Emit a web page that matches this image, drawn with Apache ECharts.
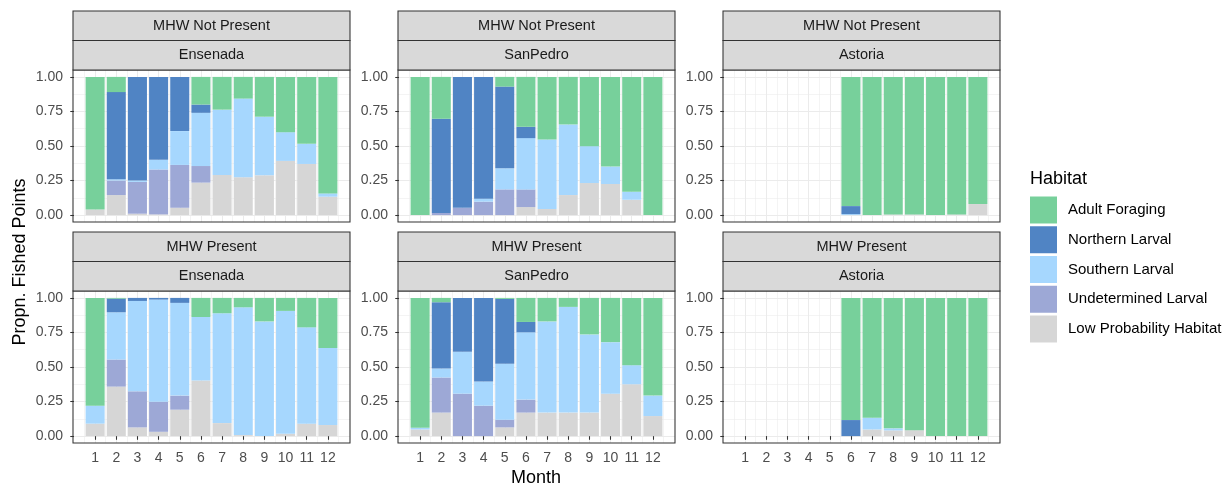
<!DOCTYPE html>
<html>
<head>
<meta charset="utf-8">
<title>Propn. Fished Points by Month</title>
<style>
  html, body { margin: 0; background: #fff; }
</style>
</head>
<body>
<div id="main" style="width:1223px;height:486px;"></div>
<script src="https://cdn.jsdelivr.net/npm/echarts@6/dist/echarts.min.js"></script>
<script>
var months = [1, 2, 3, 4, 5, 6, 7, 8, 9, 10, 11, 12];
var monthMinor = [0.5, 1.5, 2.5, 3.5, 4.5, 5.5, 6.5, 7.5, 8.5, 9.5, 10.5, 11.5, 12.5];
var yTicks = [0, 0.25, 0.5, 0.75, 1];
var yMinor = [0.125, 0.375, 0.625, 0.875];
// legend order (top to bottom)
var habitats = ['Adult Foraging', 'Northern Larval', 'Southern Larval', 'Undetermined Larval', 'Low Probability Habitat'];
// stack order (bottom to top)
var stackOrder = ['Low Probability Habitat', 'Undetermined Larval', 'Southern Larval', 'Northern Larval', 'Adult Foraging'];
var colors = {
    'Adult Foraging': '#77D09B',
    'Northern Larval': '#5084C4',
    'Southern Larval': '#A6D7FE',
    'Undetermined Larval': '#9DA8D6',
    'Low Probability Habitat': '#D6D6D6'
};

// Ensenada, MHW Not Present
var ensNP_low   = [0.04, 0.145, 0.01, 0.005, 0.053, 0.235, 0.29, 0.274, 0.288, 0.392, 0.37, 0.133];
var ensNP_und   = [0, 0.105, 0.23, 0.325, 0.31, 0.12, 0, 0, 0, 0, 0, 0];
var ensNP_sth   = [0, 0.01, 0.01, 0.07, 0.245, 0.385, 0.473, 0.569, 0.424, 0.208, 0.146, 0.024];
var ensNP_nth   = [0, 0.63, 0.75, 0.6, 0.392, 0.06, 0, 0, 0, 0, 0, 0];
var ensNP_adult = [0.96, 0.11, 0, 0, 0, 0.2, 0.237, 0.157, 0.288, 0.4, 0.484, 0.843];

// SanPedro, MHW Not Present
var spNP_low   = [0, 0, 0, 0, 0, 0.058, 0.044, 0.145, 0.232, 0.225, 0.111, 0];
var spNP_und   = [0, 0.015, 0.053, 0.097, 0.186, 0.128, 0, 0, 0, 0, 0, 0];
var spNP_sth   = [0, 0, 0, 0.022, 0.153, 0.371, 0.503, 0.511, 0.267, 0.126, 0.058, 0];
var spNP_nth   = [0, 0.682, 0.947, 0.881, 0.591, 0.082, 0, 0, 0, 0, 0, 0];
var spNP_adult = [1, 0.303, 0, 0, 0.07, 0.361, 0.453, 0.344, 0.501, 0.649, 0.831, 1];

// Astoria, MHW Not Present
var astNP_low   = [null, null, null, null, null, 0, 0, 0.005, 0.005, 0, 0.005, 0.08];
var astNP_und   = [null, null, null, null, null, 0, 0, 0, 0, 0, 0, 0];
var astNP_sth   = [null, null, null, null, null, 0.007, 0, 0, 0, 0, 0, 0];
var astNP_nth   = [null, null, null, null, null, 0.058, 0, 0, 0, 0, 0, 0];
var astNP_adult = [null, null, null, null, null, 0.935, 1, 0.995, 0.995, 1, 0.995, 0.92];

// Ensenada, MHW Present
var ensP_low   = [0.09, 0.358, 0.063, 0.031, 0.191, 0.402, 0.094, 0.007, 0, 0.017, 0.09, 0.08];
var ensP_und   = [0, 0.196, 0.261, 0.218, 0.102, 0, 0, 0, 0, 0, 0, 0];
var ensP_sth   = [0.13, 0.342, 0.654, 0.739, 0.671, 0.46, 0.795, 0.925, 0.83, 0.889, 0.697, 0.557];
var ensP_nth   = [0, 0.099, 0.022, 0.012, 0.036, 0, 0, 0, 0, 0, 0, 0];
var ensP_adult = [0.78, 0.005, 0, 0, 0, 0.138, 0.111, 0.068, 0.17, 0.094, 0.213, 0.363];

// SanPedro, MHW Present
var spP_low   = [0.048, 0.17, 0, 0, 0.063, 0.17, 0.17, 0.17, 0.17, 0.307, 0.375, 0.145];
var spP_und   = [0, 0.254, 0.307, 0.22, 0.056, 0.094, 0, 0, 0, 0, 0, 0];
var spP_sth   = [0.012, 0.065, 0.303, 0.175, 0.404, 0.487, 0.66, 0.765, 0.566, 0.373, 0.138, 0.148];
var spP_nth   = [0, 0.48, 0.39, 0.605, 0.47, 0.075, 0, 0, 0, 0, 0, 0];
var spP_adult = [0.94, 0.031, 0, 0, 0.007, 0.174, 0.17, 0.065, 0.264, 0.32, 0.487, 0.707];

// Astoria, MHW Present
var astP_low   = [null, null, null, null, null, 0, 0.048, 0.041, 0.043, 0, 0, 0];
var astP_und   = [null, null, null, null, null, 0, 0, 0, 0, 0, 0, 0];
var astP_sth   = [null, null, null, null, null, 0, 0.085, 0.015, 0, 0, 0, 0];
var astP_nth   = [null, null, null, null, null, 0.116, 0, 0, 0, 0, 0, 0];
var astP_adult = [null, null, null, null, null, 0.884, 0.867, 0.944, 0.957, 1, 1, 1];

var panels = [
    { row: 0, col: 0, mhw: 'MHW Not Present', site: 'Ensenada', values: [ensNP_low, ensNP_und, ensNP_sth, ensNP_nth, ensNP_adult] },
    { row: 0, col: 1, mhw: 'MHW Not Present', site: 'SanPedro', values: [spNP_low, spNP_und, spNP_sth, spNP_nth, spNP_adult] },
    { row: 0, col: 2, mhw: 'MHW Not Present', site: 'Astoria', values: [astNP_low, astNP_und, astNP_sth, astNP_nth, astNP_adult] },
    { row: 1, col: 0, mhw: 'MHW Present', site: 'Ensenada', values: [ensP_low, ensP_und, ensP_sth, ensP_nth, ensP_adult] },
    { row: 1, col: 1, mhw: 'MHW Present', site: 'SanPedro', values: [spP_low, spP_und, spP_sth, spP_nth, spP_adult] },
    { row: 1, col: 2, mhw: 'MHW Present', site: 'Astoria', values: [astP_low, astP_und, astP_sth, astP_nth, astP_adult] }
];

// layout
var FONT = '"Liberation Sans", Arial, sans-serif';
var colLeft = [73, 398, 723];
var rowTop = [70, 291];
var panelW = 277, panelH = 152, stripH = 29.5;
var gridColor = '#EBEBEB';
// ggplot-like expansion: bars span 0.55..12.45, 5% padding each side
var xMin = -0.045, xMax = 13.045;
var yMin = -0.05, yMax = 1.05;
var pxPerMonth = panelW / (xMax - xMin);

var myChart = echarts.init(document.getElementById('main'));

var grid = [], xAxis = [], yAxis = [], series = [], graphic = [];

panels.forEach(function (p, i) {
    var left = colLeft[p.col], top = rowTop[p.row];
    var bottomRow = p.row === 1;
    var gFrame = grid.length, gBars = grid.length + 1;
    // full panel (grid lines, ticks, labels)
    grid.push({ left: left, top: top, width: panelW, height: panelH, show: false });
    // inner band of months 0.5..12.5 (bars)
    grid.push({ left: left + (0.5 - xMin) * pxPerMonth, top: top, width: 12 * pxPerMonth, height: panelH, show: false });

    xAxis.push({
        type: 'value', gridIndex: gFrame, min: xMin, max: xMax,
        axisLine: { show: false },
        axisTick: { show: bottomRow, customValues: months, length: 3.7, lineStyle: { color: '#333333', width: 1.07 } },
        axisLabel: { show: bottomRow, customValues: months, margin: 8, color: '#4D4D4D', fontSize: 14, fontFamily: FONT },
        splitLine: { show: true, lineStyle: { color: gridColor, width: 1.07 } }
    });
    xAxis.push({
        type: 'value', gridIndex: gFrame, min: xMin, max: xMax,
        axisLine: { show: false },
        axisTick: { show: false, customValues: monthMinor },
        axisLabel: { show: false },
        splitLine: { show: true, lineStyle: { color: gridColor, width: 0.55 } }
    });
    var xBars = xAxis.length;
    xAxis.push({
        type: 'category', gridIndex: gBars, data: months,
        axisLine: { show: false }, axisTick: { show: false }, axisLabel: { show: false },
        splitLine: { show: false }
    });

    yAxis.push({
        type: 'value', gridIndex: gFrame, min: yMin, max: yMax,
        axisLine: { show: false },
        axisTick: { show: true, length: 3.7, customValues: yTicks, lineStyle: { color: '#333333', width: 1.07 } },
        axisLabel: {
            customValues: yTicks, margin: 10, color: '#4D4D4D', fontSize: 14, fontFamily: FONT,
            formatter: function (v) { return v.toFixed(2); }
        },
        splitLine: { show: true, lineStyle: { color: gridColor, width: 1.07 } }
    });
    yAxis.push({
        type: 'value', gridIndex: gFrame, min: yMin, max: yMax,
        axisLine: { show: false },
        axisTick: { show: false, customValues: yMinor },
        axisLabel: { show: false },
        splitLine: { show: true, lineStyle: { color: gridColor, width: 0.55 } }
    });
    var yBars = yAxis.length;
    yAxis.push({
        type: 'value', gridIndex: gBars, min: yMin, max: yMax,
        axisLine: { show: false }, axisTick: { show: false }, axisLabel: { show: false },
        splitLine: { show: false }
    });

    stackOrder.forEach(function (h, k) {
        series.push({
            name: h,
            type: 'bar',
            stack: 'p' + i,
            xAxisIndex: xBars,
            yAxisIndex: yBars,
            barCategoryGap: '10%',
            itemStyle: { color: colors[h] },
            data: p.values[k]
        });
    });

    // panel border on top
    graphic.push({
        type: 'rect', z: 100,
        shape: { x: left, y: top, width: panelW, height: panelH },
        style: { fill: null, stroke: '#333333', lineWidth: 1.07 }
    });
    // strips
    [p.mhw, p.site].forEach(function (label, s) {
        var sy = top - stripH * (2 - s);
        graphic.push({
            type: 'rect', z: 100,
            shape: { x: left, y: sy, width: panelW, height: stripH },
            style: { fill: '#D9D9D9', stroke: '#333333', lineWidth: 1.07 }
        });
        graphic.push({
            type: 'text', z: 101,
            x: left + panelW / 2, y: sy + stripH / 2,
            style: { text: label, fill: '#1A1A1A', font: '14.5px ' + FONT, align: 'center', verticalAlign: 'middle' }
        });
    });
});

// axis titles and legend title
graphic.push({
    type: 'text', z: 101, x: 20, y: 262, rotation: Math.PI / 2,
    style: { text: 'Propn. Fished Points', fill: '#000', font: '18px ' + FONT, align: 'center', verticalAlign: 'middle' }
});
graphic.push({
    type: 'text', z: 101, x: 536, y: 478,
    style: { text: 'Month', fill: '#000', font: '18px ' + FONT, align: 'center', verticalAlign: 'middle' }
});
graphic.push({
    type: 'text', z: 101, x: 1030, y: 179,
    style: { text: 'Habitat', fill: '#000', font: '18px ' + FONT, align: 'left', verticalAlign: 'middle' }
});

var option = {
    animation: false,
    backgroundColor: '#fff',
    textStyle: { fontFamily: FONT },
    legend: {
        orient: 'vertical', left: 1030, top: 196.5, padding: 0,
        itemWidth: 27, itemHeight: 27, itemGap: 2.75,
        icon: 'rect', selectedMode: false,
        data: habitats,
        textStyle: { fontSize: 15, color: '#000', fontFamily: FONT, padding: [0, 0, 0, 6] }
    },
    grid: grid,
    xAxis: xAxis,
    yAxis: yAxis,
    series: series,
    graphic: graphic
};

myChart.setOption(option);
</script>
</body>
</html>
